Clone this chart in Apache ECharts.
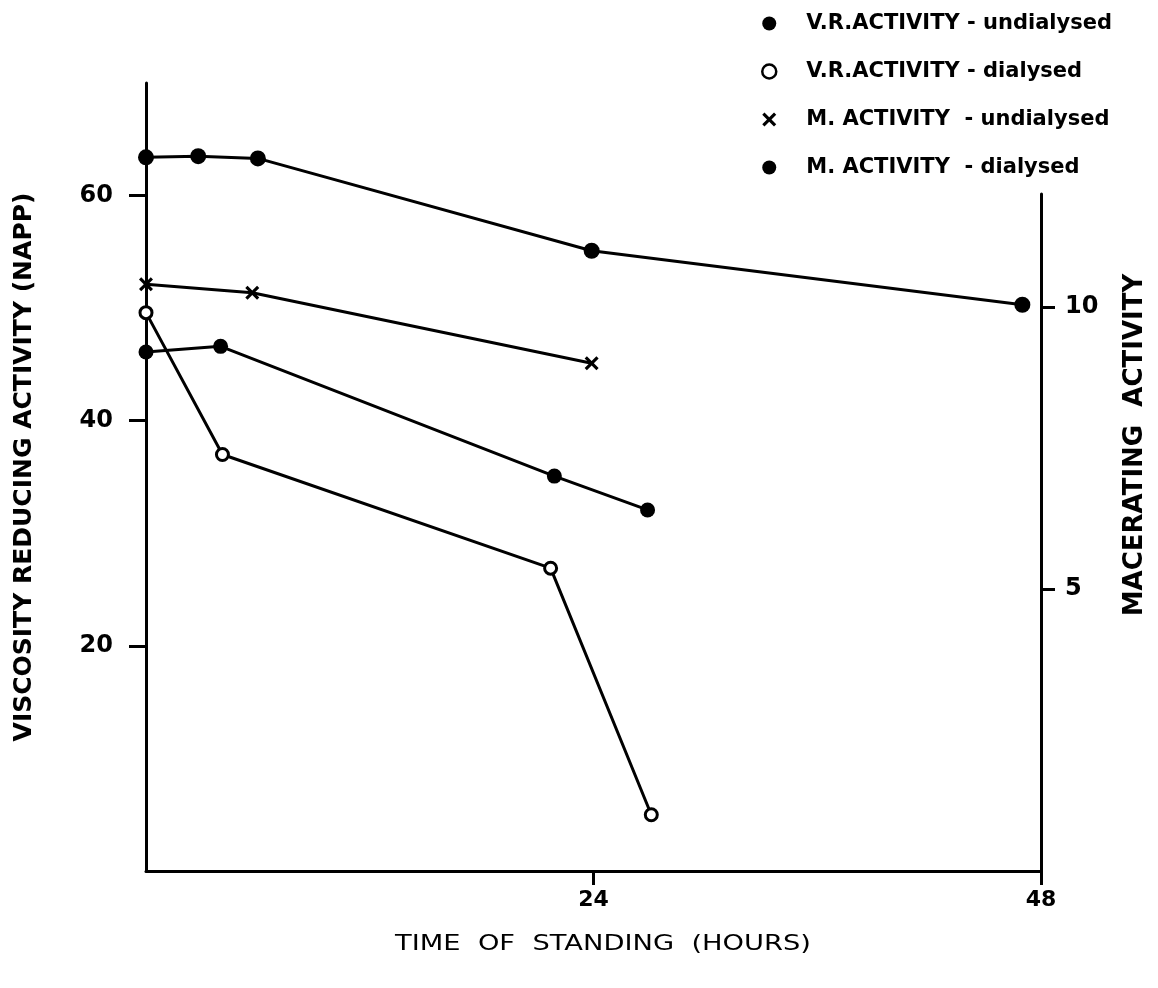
<!DOCTYPE html>
<html>
<head>
<meta charset="utf-8">
<script src="https://cdn.jsdelivr.net/npm/echarts@6/dist/echarts.min.js"></script>
<style>
  html, body { margin: 0; padding: 0; background: #fff; }
  #chart { width: 1158px; height: 988px; }
</style>
</head>
<body>
<div id="chart"></div>
<script>
// ---- data ----
const seriesNames = [
  'V.R.ACTIVITY - undialysed',
  'V.R.ACTIVITY - dialysed',
  'M. ACTIVITY  - undialysed',
  'M. ACTIVITY  - dialysed'
];
// Viscosity reducing activity (left axis, NAPP)
const vrUndHours = [0, 2.8, 6, 23.9, 47];
const vrUndValues = [63.4, 63.5, 63.3, 55.1, 50.3];
const vrDiaHours = [0, 4.1, 21.7, 27.1];
const vrDiaValues = [49.6, 37.0, 26.9, 5.0];
// Macerating activity (right axis)
const mUndHours = [0, 5.7, 23.9];
const mUndValues = [10.4, 10.25, 9.0];
const mDiaHours = [0, 4.0, 21.9, 26.9];
const mDiaValues = [9.2, 9.3, 7.0, 6.4];
// tick labels
const xTicks = [24, 48];
const leftTicks = [20, 40, 60];
const rightTicks = [5, 10];

const xTitle = 'TIME  OF  STANDING  (HOURS)';
const leftTitle = 'VISCOSITY REDUCING ACTIVITY (NAPP)';
const rightTitle = 'MACERATING  ACTIVITY';

const zip = (xs, ys) => xs.map((x, i) => [x, ys[i]]);
const crossPath = 'path://M0,1.6 L1.6,0 L5,3.4 L8.4,0 L10,1.6 L6.6,5 L10,8.4 L8.4,10 L5,6.6 L1.6,10 L0,8.4 L3.4,5 Z';
const FONT = 'DejaVu Sans';

const chart = echarts.init(document.getElementById('chart'), null, { renderer: 'canvas' });

const axisLineStyle = { show: true, onZero: false, lineStyle: { color: '#000', width: 3 } };
const tickStyle = { color: '#000', width: 3 };
const labelFont = { color: '#000', fontFamily: FONT, fontWeight: 'bold' };

chart.setOption({
  backgroundColor: '#fff',
  animation: false,
  grid: [
    { left: 146, right: 117, top: 83, bottom: 117 },
    { left: 146, right: 117, top: 194, bottom: 117 }
  ],
  xAxis: [
    {
      type: 'value', gridIndex: 0, min: 0, max: 48,
      axisLine: axisLineStyle, splitLine: { show: false },
      axisTick: { show: true, customValues: xTicks, length: 14, lineStyle: tickStyle },
      axisLabel: Object.assign({ customValues: xTicks, margin: 18, fontSize: 22 }, labelFont)
    },
    { type: 'value', gridIndex: 1, min: 0, max: 48, show: false }
  ],
  yAxis: [
    {
      type: 'value', gridIndex: 0, min: 0, max: 70, position: 'left',
      axisLine: axisLineStyle, splitLine: { show: false },
      axisTick: { show: true, customValues: leftTicks, length: 17, lineStyle: tickStyle },
      axisLabel: Object.assign({ customValues: leftTicks, margin: 33, fontSize: 24 }, labelFont)
    },
    {
      type: 'value', gridIndex: 1, min: 0, max: 12, position: 'right',
      axisLine: axisLineStyle, splitLine: { show: false },
      axisTick: { show: true, customValues: rightTicks, length: 14, lineStyle: tickStyle },
      axisLabel: Object.assign({ customValues: rightTicks, margin: 24, fontSize: 24 }, labelFont)
    }
  ],
  legend: {
    orient: 'vertical',
    left: 756, top: 8,
    itemWidth: 64, itemHeight: 14,
    itemGap: 27,
    textStyle: { color: '#000', fontFamily: FONT, fontWeight: 'bold', fontSize: 21 },
    data: [
      { name: seriesNames[0], icon: 'circle' },
      { name: seriesNames[1], icon: 'circle', itemStyle: { color: '#fff', borderColor: '#000', borderWidth: 2.5 } },
      { name: seriesNames[2], icon: crossPath },
      { name: seriesNames[3], icon: 'circle' }
    ]
  },
  graphic: [
    { type: 'text', x: 24, y: 467, rotation: Math.PI / 2,
      style: { text: leftTitle, fill: '#000', font: 'bold 25px "DejaVu Sans"', align: 'center', verticalAlign: 'middle' } },
    { type: 'text', x: 1135, y: 445, rotation: Math.PI / 2,
      style: { text: rightTitle, fill: '#000', font: 'bold 26px "DejaVu Sans"', align: 'center', verticalAlign: 'middle' } },
    { type: 'text', x: 603, y: 945, scaleX: 1.3,
      style: { text: xTitle, fill: '#000', font: '21px "DejaVu Sans"', align: 'center', verticalAlign: 'middle' } }
  ],
  series: [
    {
      name: seriesNames[0], type: 'line', xAxisIndex: 0, yAxisIndex: 0,
      data: zip(vrUndHours, vrUndValues), clip: false,
      symbol: 'circle', symbolSize: 16,
      itemStyle: { color: '#000' }, lineStyle: { color: '#000', width: 3 }
    },
    {
      name: seriesNames[1], type: 'line', xAxisIndex: 0, yAxisIndex: 0,
      data: zip(vrDiaHours, vrDiaValues), clip: false,
      symbol: 'circle', symbolSize: 12,
      itemStyle: { color: '#fff', borderColor: '#000', borderWidth: 3 }, lineStyle: { color: '#000', width: 3 }
    },
    {
      name: seriesNames[2], type: 'line', xAxisIndex: 1, yAxisIndex: 1,
      data: zip(mUndHours, mUndValues), clip: false,
      symbol: crossPath, symbolSize: 14,
      itemStyle: { color: '#000' }, lineStyle: { color: '#000', width: 3 }
    },
    {
      name: seriesNames[3], type: 'line', xAxisIndex: 1, yAxisIndex: 1,
      data: zip(mDiaHours, mDiaValues), clip: false,
      symbol: 'circle', symbolSize: 15,
      itemStyle: { color: '#000' }, lineStyle: { color: '#000', width: 3 }
    }
  ]
});
</script>
</body>
</html>
